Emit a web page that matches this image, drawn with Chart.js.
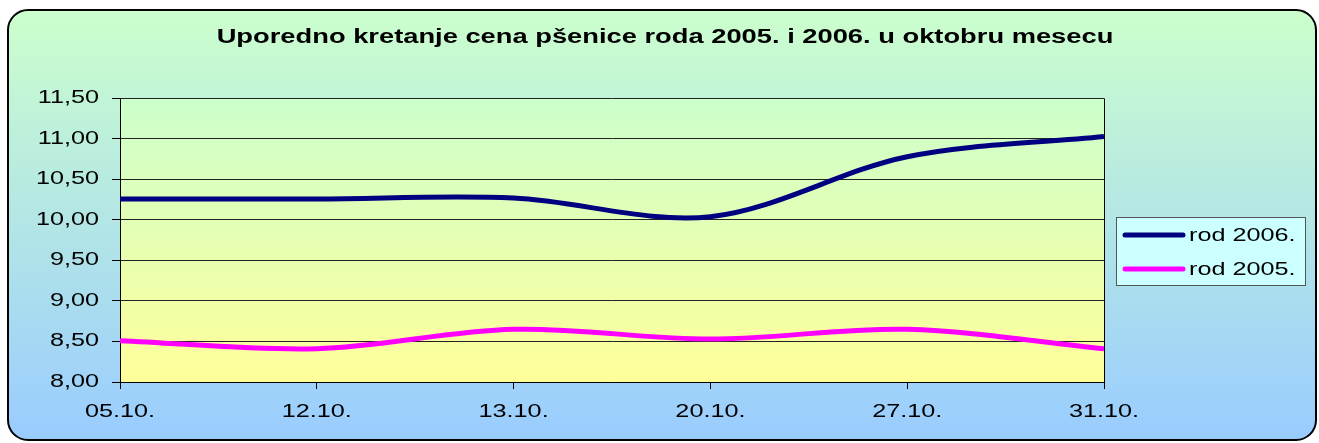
<!DOCTYPE html>
<html>
<head>
<meta charset="utf-8">
<script src="https://cdn.jsdelivr.net/npm/chart.js@4.4.1/dist/chart.umd.min.js"></script>
<style>
  html, body { margin: 0; padding: 0; background: #fff; }
  canvas { display: block; }
</style>
</head>
<body>
<canvas id="chart" width="1319" height="443"></canvas>
<script>
// Chart data
const chartTitle = 'Uporedno kretanje cena pšenice roda 2005. i 2006. u oktobru mesecu';
const categories = ['05.10.', '12.10.', '13.10.', '20.10.', '27.10.', '31.10.'];
const rod2006 = [10.26, 10.26, 10.27, 10.04, 10.78, 11.03];
const rod2005 = [8.51, 8.41, 8.65, 8.53, 8.65, 8.41];
const seriesLabels = ['rod 2006.', 'rod 2005.'];
const seriesColors = ['#000080', '#ff00ff'];
const yMin = 8, yMax = 11.5, yStep = 0.5;

const FONT = "'Liberation Sans', Arial, sans-serif";
const TEXT_STRETCH = 1.4; // the original chart's text is stretched sideways

const canvas = document.getElementById('chart');
const ctx = canvas.getContext('2d');

// draw every text horizontally stretched, keeping its alignment point
const baseFillText = CanvasRenderingContext2D.prototype.fillText;
ctx.fillText = function (text, x, y) {
    this.save();
    this.translate(x, y);
    this.scale(TEXT_STRETCH, 1);
    baseFillText.call(this, text, 0, 0);
    this.restore();
};

// Background frame, plot gradient, plot border and the boxed legend
const framePlugin = {
    id: 'framePlugin',
    beforeDraw(chart) {
        const c = chart.ctx;
        const a = chart.chartArea;
        c.save();
        // outer rounded box
        const g = c.createLinearGradient(0, 10, 0, 441);
        g.addColorStop(0, '#ccffcc');
        g.addColorStop(1, '#99ccff');
        c.beginPath();
        c.roundRect(8, 10, 1308, 430, 20);
        c.fillStyle = g;
        c.fill();
        c.lineWidth = 2;
        c.strokeStyle = '#000';
        c.stroke();
        // plot area
        const p = c.createLinearGradient(0, a.top, 0, a.bottom);
        p.addColorStop(0, '#ccffcc');
        p.addColorStop(1, '#ffff99');
        c.fillStyle = p;
        c.fillRect(a.left, a.top, a.right - a.left, a.bottom - a.top);
        c.restore();
    },
    beforeDatasetsDraw(chart) {
        const c = chart.ctx;
        const a = chart.chartArea;
        c.save();
        c.strokeStyle = '#000';
        c.lineWidth = 1;
        c.beginPath();
        c.moveTo(Math.round(a.right) + 0.5, a.top);
        c.lineTo(Math.round(a.right) + 0.5, a.bottom);
        c.stroke();
        c.restore();
    },
    afterDraw(chart) {
        const c = chart.ctx;
        c.save();
        // legend box
        c.fillStyle = '#ccffff';
        c.fillRect(1116, 217, 189, 68);
        c.strokeStyle = '#555';
        c.lineWidth = 1;
        c.strokeRect(1116.5, 217.5, 189, 68);
        c.font = '18px ' + FONT;
        c.textBaseline = 'middle';
        c.textAlign = 'left';
        c.fillStyle = '#000';
        chart.data.datasets.forEach((ds, i) => {
            const y = 235 + i * 34;
            c.strokeStyle = ds.borderColor;
            c.lineWidth = 5;
            c.lineCap = 'round';
            c.beginPath();
            c.moveTo(1125, y);
            c.lineTo(1183, y);
            c.stroke();
            c.fillText(ds.label, 1189, y + 1);
        });
        c.restore();
    }
};

new Chart(ctx, {
    type: 'line',
    data: {
        labels: categories,
        datasets: [
            {
                label: seriesLabels[0],
                data: rod2006,
                borderColor: seriesColors[0],
                backgroundColor: seriesColors[0],
                borderWidth: 5,
                pointRadius: 0,
                tension: 0.33,
                fill: false
            },
            {
                label: seriesLabels[1],
                data: rod2005,
                borderColor: seriesColors[1],
                backgroundColor: seriesColors[1],
                borderWidth: 5,
                pointRadius: 0,
                tension: 0.33,
                fill: false
            }
        ]
    },
    options: {
        responsive: false,
        animation: false,
        devicePixelRatio: 1,
        layout: {
            padding: { left: 11, right: 0, top: 0, bottom: 0 }
        },
        scales: {
            x: {
                offset: false,
                grid: {
                    drawOnChartArea: false,
                    tickLength: 7,
                    color: '#000'
                },
                border: { color: '#000', width: 1 },
                ticks: {
                    color: '#000',
                    padding: 12,
                    maxRotation: 0,
                    autoSkip: false,
                    font: { family: FONT, size: 18 }
                },
                afterFit(scale) { scale.height = 61; }
            },
            y: {
                min: yMin,
                max: yMax,
                grid: {
                    color: '#222',
                    tickLength: 8,
                    tickColor: '#000'
                },
                border: { color: '#000', width: 1 },
                ticks: {
                    stepSize: yStep,
                    color: '#000',
                    padding: 13,
                    font: { family: FONT, size: 18 },
                    callback: v => v.toFixed(2).replace('.', ',')
                },
                afterFit(scale) { scale.width = 109; }
            },
            // empty space on the right that holds the legend box
            legendSpace: {
                type: 'linear',
                position: 'right',
                grid: { display: false },
                border: { display: false },
                ticks: { display: false },
                afterFit(scale) { scale.width = 215; }
            }
        },
        plugins: {
            legend: { display: false },
            tooltip: { enabled: false },
            title: {
                display: true,
                text: chartTitle,
                color: '#000',
                font: { family: FONT, size: 19.5, weight: 'bold' },
                padding: { top: 26, bottom: 49 }
            }
        }
    },
    plugins: [framePlugin]
});
</script>
</body>
</html>
